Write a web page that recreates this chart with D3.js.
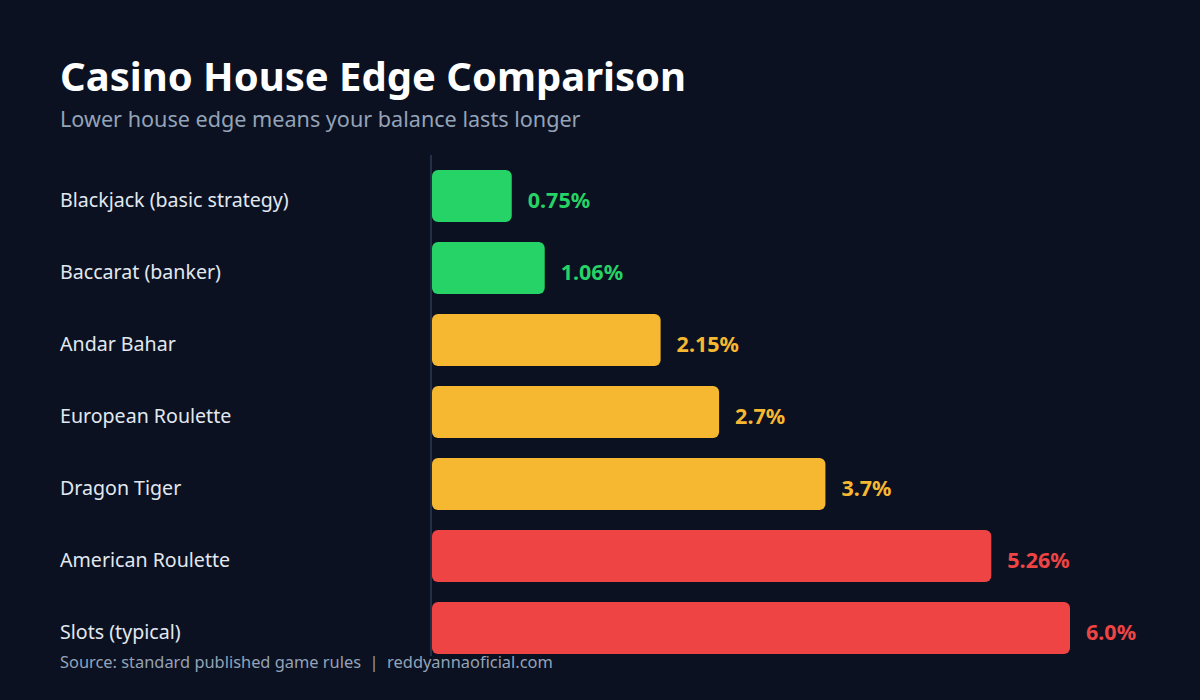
<!DOCTYPE html>
<html>
<head>
<meta charset="utf-8">
<script src="https://cdn.jsdelivr.net/npm/d3@7"></script>
<style>
  html, body { margin: 0; padding: 0; background: #0b1120; }
  svg { display: block; font-family: "Noto Sans", "Open Sans", sans-serif; }
</style>
</head>
<body>
<svg id="chart" width="1200" height="700"></svg>
<script>
// chart data
const games = [
  "Blackjack (basic strategy)",
  "Baccarat (banker)",
  "Andar Bahar",
  "European Roulette",
  "Dragon Tiger",
  "American Roulette",
  "Slots (typical)"
];
const houseEdge = [0.75, 1.06, 2.15, 2.7, 3.7, 5.26, 6.0];
const valueLabels = ["0.75%", "1.06%", "2.15%", "2.7%", "3.7%", "5.26%", "6.0%"];

const width = 1200, height = 700;

// colour by tier: low / mid / high edge
const colorFor = (v) => v < 2 ? "#26d366" : v < 5 ? "#f6b830" : "#ef4444";

const svg = d3.select("#chart");

svg.append("rect")
  .attr("width", width)
  .attr("height", height)
  .attr("fill", "#0b1120");

// title block
svg.append("text")
  .attr("x", 60).attr("y", 91)
  .attr("fill", "#ffffff")
  .attr("font-size", 40)
  .attr("font-weight", 700)
  .text("Casino House Edge Comparison");

svg.append("text")
  .attr("x", 60).attr("y", 127)
  .attr("fill", "#94a3b8")
  .attr("font-size", 21.6)
  .text("Lower house edge means your balance lasts longer");

// scales
const x = d3.scaleLinear()
  .domain([0, d3.max(houseEdge)])
  .range([432, 1070]);

const y = d3.scaleBand()
  .domain(games)
  .range([160, 664])
  .paddingInner(20 / 72)
  .paddingOuter(10 / 72);

// baseline
svg.append("line")
  .attr("x1", 431).attr("x2", 431)
  .attr("y1", 155).attr("y2", 656)
  .attr("stroke", "#2b3a55")
  .attr("stroke-width", 1.5);

const rows = svg.append("g")
  .selectAll("g")
  .data(games)
  .join("g");

rows.append("text")
  .attr("x", 60)
  .attr("y", (d) => y(d) + y.bandwidth() / 2 + 4)
  .attr("dy", "0.35em")
  .attr("fill", "#e2e8f0")
  .attr("font-size", 19.6)
  .text((d) => d);

rows.append("rect")
  .attr("x", x(0))
  .attr("y", (d) => y(d))
  .attr("width", (d, i) => x(houseEdge[i]) - x(0))
  .attr("height", y.bandwidth())
  .attr("rx", 6)
  .attr("fill", (d, i) => colorFor(houseEdge[i]));

rows.append("text")
  .attr("x", (d, i) => x(houseEdge[i]) + 16)
  .attr("y", (d) => y(d) + y.bandwidth() / 2 + 4)
  .attr("dy", "0.35em")
  .attr("fill", (d, i) => colorFor(houseEdge[i]))
  .attr("font-size", 21.5)
  .attr("font-weight", 700)
  .text((d, i) => valueLabels[i]);

// footer
svg.append("text")
  .attr("x", 60).attr("y", 668)
  .attr("fill", "#94a3b8")
  .attr("font-size", 16.4)
  .style("white-space", "pre")
  .text("Source: standard published game rules  |  reddyannaoficial.com");
</script>
</body>
</html>
